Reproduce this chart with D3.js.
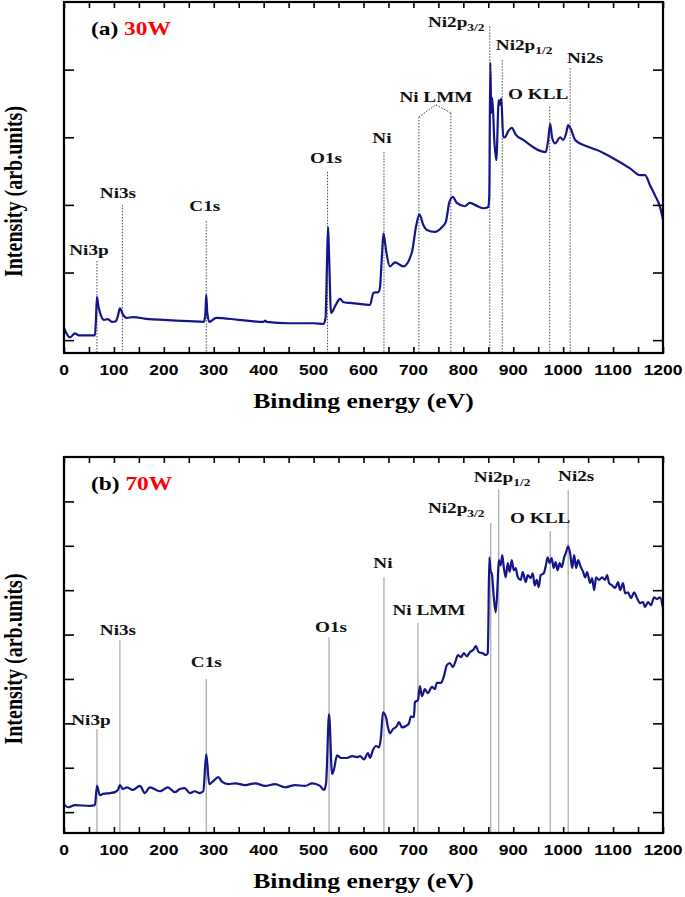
<!DOCTYPE html>
<html>
<head>
<meta charset="utf-8">
<script src="https://cdn.jsdelivr.net/npm/d3@7"></script>
<style>
  body { margin: 0; background: #fff; }
  svg { display: block; }
</style>
</head>
<body>
<svg id="xps" width="685" height="897"></svg>
<script>
// XPS survey spectra, 30W and 70W
const energyA = [0,12,22,30,62,64,66,69,72,80,88,96,104,108,112,118,125,138,170,200,250,280,283,285,287,291,305,350,400,403,406,450,500,520,524,527,529,531,535,545,553,560,573,600,613,620,630,633,637,640,643,646,653,663,680,697,705,712,720,727,743,757,765,772,779,787,803,813,823,840,850,852,854,856,858,862,866,871,873,876,880,883,890,897,905,920,950,965,970,974,978,984,994,1000,1006,1010,1016,1024,1050,1068,1100,1134,1154,1164,1174,1184,1194,1200]
const intensityA = [0.18,0.04,0.10,0.07,0.07,0.30,0.64,0.50,0.41,0.30,0.31,0.27,0.28,0.36,0.47,0.38,0.33,0.34,0.31,0.30,0.28,0.27,0.37,0.67,0.41,0.27,0.33,0.30,0.27,0.29,0.27,0.25,0.25,0.24,0.33,1.18,1.67,1.26,0.40,0.53,0.61,0.56,0.55,0.53,0.52,0.70,0.71,0.78,1.26,1.58,1.45,1.29,1.09,1.15,1.09,1.30,1.67,1.86,1.70,1.63,1.60,1.67,1.75,2.04,2.12,2.03,1.98,2.03,2.00,1.95,1.97,2.14,4.10,3.36,3.58,2.96,2.66,3.55,3.48,3.57,3.00,3.00,3.09,3.14,3.04,2.96,2.81,2.78,2.96,3.20,2.99,2.91,3.00,2.96,3.06,3.18,3.11,2.96,2.86,2.81,2.69,2.54,2.44,2.44,2.29,2.14,1.97,1.78]

const energyB = [0,8,22,52,62,66,72,78,92,102,108,112,118,126,138,152,162,172,192,208,222,232,242,252,262,272,279,285,291,299,309,317,329,343,363,383,403,423,443,463,483,497,513,521,525,531,537,541,547,555,567,577,587,593,601,609,613,619,625,631,635,639,645,649,653,659,667,671,677,685,691,695,701,703,709,713,717,723,729,737,743,747,755,761,767,773,779,785,789,795,801,807,813,821,825,831,839,845,849,850,852,855,857,861,865,869,871,875,878,881,885,889,893,897,901,905,909,915,919,925,929,935,939,943,947,951,955,961,965,969,973,977,981,985,989,993,997,1002,1006,1010,1014,1018,1022,1026,1030,1034,1040,1044,1048,1054,1058,1062,1066,1072,1078,1084,1088,1092,1098,1104,1110,1114,1120,1124,1130,1136,1142,1148,1154,1160,1164,1170,1176,1182,1188,1194,1200]
const intensityB = [0.18,0.11,0.16,0.14,0.16,0.59,0.38,0.41,0.43,0.45,0.50,0.61,0.52,0.56,0.50,0.59,0.43,0.56,0.47,0.56,0.45,0.52,0.54,0.43,0.47,0.43,0.47,1.31,0.63,0.70,0.79,0.68,0.63,0.65,0.61,0.65,0.59,0.63,0.56,0.61,0.59,0.65,0.59,0.50,0.65,2.21,0.86,0.97,1.28,1.22,1.22,1.26,1.24,1.26,1.19,1.33,1.22,1.40,1.49,1.46,1.69,2.25,2.14,1.91,1.78,1.87,1.94,2.03,1.91,1.94,2.00,2.16,2.14,2.48,2.52,2.84,2.61,2.77,2.68,2.82,2.77,2.91,2.91,3.06,3.31,3.36,3.27,3.42,3.54,3.49,3.58,3.51,3.60,3.67,3.74,3.60,3.58,3.54,3.58,4.10,5.74,5.41,5.38,4.84,4.50,5.23,5.68,5.56,5.79,5.52,5.29,5.61,5.41,5.68,5.45,5.50,5.29,5.23,5.41,5.18,5.34,5.27,5.38,5.11,5.23,5.07,5.34,5.38,5.54,5.74,5.61,5.72,5.50,5.63,5.45,5.61,5.52,5.74,5.86,5.99,5.83,5.50,5.79,5.50,5.68,5.56,5.41,5.29,5.41,5.16,5.27,5.00,5.29,5.23,5.29,5.23,5.34,5.16,5.11,5.05,5.18,5.00,5.16,4.93,4.95,4.82,4.95,4.82,4.71,4.73,4.62,4.73,4.66,4.84,4.80,4.84,4.59]

// peak markers: name, line energy, line top (a.u.)
const peakNames = ['Ni3p', 'Ni3s', 'C1s', 'O1s', 'Ni', 'Ni LMM', 'Ni2p|3/2', 'Ni2p|1/2', 'O KLL', 'Ni2s']
const lineEnergyA = [66, 117, 285, 528, 641, 711, 853, 878, 973, 1014]
const lineTopA = [1.17, 2.00, 1.76, 2.49, 2.78, 3.30, 4.64, 4.14, 3.45, 4.02]
const lineEnergyB = [66, 112, 285, 531, 641, 709, 855, 871, 974, 1010]
const lineTopB = [1.87, 3.87, 3.00, 3.94, 5.29, 4.26, 6.51, 7.27, 6.33, 7.25]
// second Ni LMM line in (a), with its roof
const lmmA = [[711, 3.30], [745, 3.48], [775, 3.36]]

const xTickLabels = [0, 100, 200, 300, 400, 500, 600, 700, 800, 900, 1000, 1100, 1200]
const yTicksA = [0, 1, 2, 3, 4]
const yTicksB = [0, 1, 2, 3, 4, 5, 6, 7]

const svg = d3.select('#xps')
const left = 64
const right = 663
const lineColor = '#15158a'
const serif = '"Liberation Serif", "Times New Roman", serif'
const sans = '"Liberation Sans", Arial, sans-serif'
const sx = 1.28

// text that is stretched horizontally like the source picture
const wideText = (parent, x, y, anchor, size, family, stretch) => {
	return parent.append('g')
		.attr('transform', `translate(${x}, ${y}) scale(${stretch}, 1)`)
		.append('text')
		.attr('text-anchor', anchor)
		.style('font-family', family)
		.style('font-weight', 'bold')
		.style('font-size', size + 'px')
}

const panel = (cfg) => {
	const g = svg.append('g')
	const x = d3.scaleLinear().domain([0, 1200]).range([left, right])
	const y = d3.scaleLinear().domain(cfg.yDomain).range([cfg.bottom, cfg.top])

	// peak guide lines
	const lines = g.append('g')
		.attr('stroke', cfg.guideColor)
		.attr('stroke-width', cfg.guideWidth)
		.attr('stroke-dasharray', cfg.dash)
		.attr('fill', 'none')
	lines.selectAll('line')
		.data(cfg.lineEnergy)
		.enter()
		.append('line')
		.attr('x1', d => x(d))
		.attr('x2', d => x(d))
		.attr('y1', (d, i) => y(cfg.lineTop[i]))
		.attr('y2', cfg.bottom)
	if (cfg.extra) {
		lines.append('path')
			.attr('d', d3.line().x(d => x(d[0])).y(d => y(d[1]))(cfg.extra))
		lines.append('line')
			.attr('x1', x(cfg.extra[2][0]))
			.attr('x2', x(cfg.extra[2][0]))
			.attr('y1', y(cfg.extra[2][1]))
			.attr('y2', cfg.bottom)
	}

	// spectrum
	const pts = cfg.energy.map((e, i) => [e, cfg.intensity[i]])
	g.append('path')
		.attr('d', d3.line().x(d => x(d[0])).y(d => y(d[1])).curve(d3.curveMonotoneX)(pts))
		.attr('fill', 'none')
		.attr('stroke', lineColor)
		.attr('stroke-width', 2.2)
		.attr('stroke-linejoin', 'round')

	// axes with inward ticks
	const minor = d3.range(0, 1201, 50)
	const axisStyle = sel => {
		sel.selectAll('path.domain').remove()
		sel.selectAll('.tick line').attr('stroke', '#000').attr('stroke-width', 1.6)
		sel.selectAll('.tick text').remove()
	}
	g.append('g').attr('transform', `translate(0, ${cfg.bottom})`)
		.call(d3.axisBottom(x).tickValues(minor).tickSize(-6)).call(axisStyle)
	g.append('g').attr('transform', `translate(0, ${cfg.top})`)
		.call(d3.axisTop(x).tickValues(minor).tickSize(-6)).call(axisStyle)
	g.append('g').attr('transform', `translate(${left}, 0)`)
		.call(d3.axisLeft(y).tickValues(cfg.yTicks).tickSize(-10)).call(axisStyle)
	g.append('g').attr('transform', `translate(${right}, 0)`)
		.call(d3.axisRight(y).tickValues(cfg.yTicks).tickSize(-10)).call(axisStyle)

	g.append('rect')
		.attr('x', left).attr('y', cfg.top)
		.attr('width', right - left).attr('height', cfg.bottom - cfg.top)
		.attr('fill', 'none').attr('stroke', '#000').attr('stroke-width', 2.2)

	// tick labels
	xTickLabels.forEach(v => {
		wideText(g, x(v), cfg.bottom + 22, 'middle', 14.5, sans, 1.2).text(v)
	})

	// axis titles
	wideText(g, (left + right) / 2, cfg.bottom + 55, 'middle', 20, serif, sx)
		.text('Binding energy (eV)')
	svg.append('g')
		.attr('transform', `translate(22, ${(cfg.top + cfg.bottom) / 2 + 14}) scale(${sx}, 1) rotate(-90)`)
		.append('text')
		.attr('text-anchor', 'middle')
		.style('font-family', serif).style('font-weight', 'bold').style('font-size', '20px')
		.text('Intensity (arb.units)')

	// panel tag
	const tag = wideText(g, left + 27, cfg.top + 33, 'start', 18, serif, 1.3)
	tag.append('tspan').attr('fill', '#000').text(cfg.tag + ' ')
	tag.append('tspan').attr('fill', '#ff0000').text(cfg.power)

	// peak labels
	peakNames.forEach((name, i) => {
		const p = cfg.labelPos[i]
		const parts = name.split('|')
		const t = wideText(g, x(p[0]), y(p[1]), parts.length > 1 ? 'start' : 'middle', 15, serif, sx)
			.attr('fill', '#111')
		t.append('tspan').text(parts[0])
		if (parts.length > 1) {
			t.append('tspan').attr('dy', 4).style('font-size', '10.5px').text(parts[1])
		}
	})
}

panel({
	top: 2, bottom: 353, yDomain: [-0.19, 5], yTicks: yTicksA,
	energy: energyA, intensity: intensityA,
	lineEnergy: lineEnergyA, lineTop: lineTopA, extra: lmmA,
	guideColor: '#333', guideWidth: 0.9, dash: '1.5,1.5',
	tag: '(a)', power: '30W',
	labelPos: [[50, 1.26], [108, 2.10], [282, 1.91], [525, 2.62], [637, 2.91], [745, 3.52], [729, 4.63], [865, 4.29], [950, 3.57], [1044, 4.10]]
})

panel({
	top: 457, bottom: 833, yDomain: [-0.47, 8], yTicks: yTicksB,
	energy: energyB, intensity: intensityB,
	lineEnergy: lineEnergyB, lineTop: lineTopB, extra: null,
	guideColor: '#888', guideWidth: 0.9, dash: null,
	tag: '(b)', power: '70W',
	labelPos: [[54, 1.96], [108, 3.99], [285, 3.27], [535, 4.05], [639, 5.50], [731, 4.44], [729, 6.73], [821, 7.43], [954, 6.51], [1026, 7.45]]
})
</script>
</body>
</html>
